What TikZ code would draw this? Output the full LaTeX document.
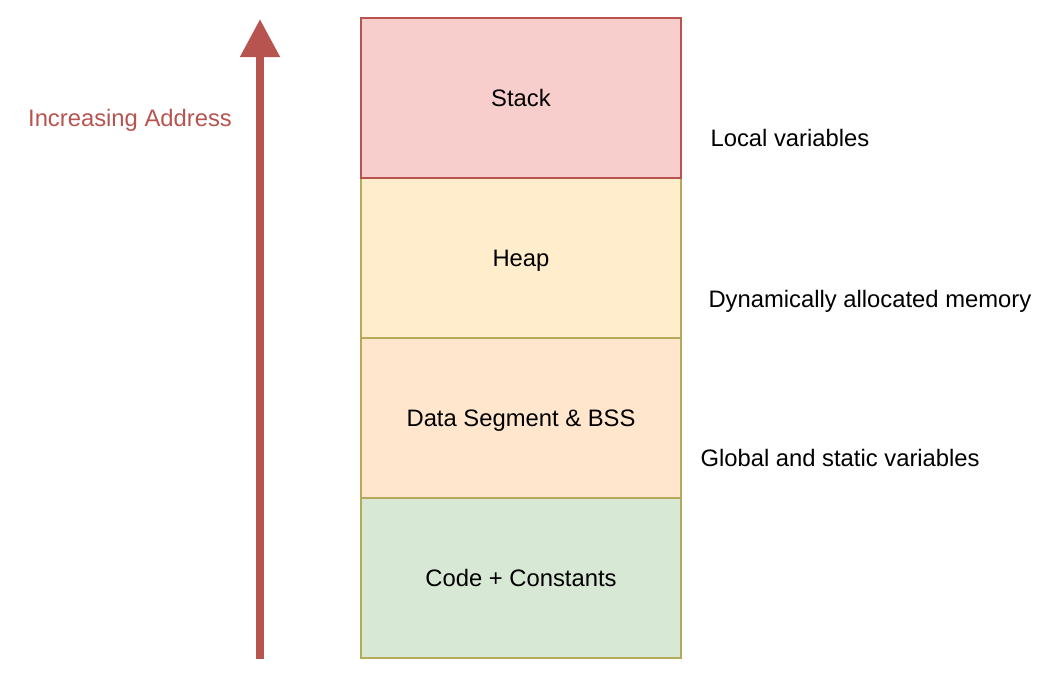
\documentclass[tikz,border=0pt]{standalone}
\usepackage{fontspec}
\setmainfont{Liberation Sans}
\usetikzlibrary{arrows.meta}
\definecolor{stackfill}{HTML}{F8CECC}
\definecolor{stackline}{HTML}{B85450}
\definecolor{heapfill}{HTML}{FFEDCC}
\definecolor{datafill}{HTML}{FFE6CC}
\definecolor{codefill}{HTML}{D7E8D4}
\definecolor{oliveline}{RGB}{181,169,92}

\begin{document}
\begin{tikzpicture}[x=1pt, y=-1pt,
            segment/.style={draw=oliveline, line width=2.8pt, minimum width=320pt, minimum height=160pt, inner sep=0pt, text depth=0pt, font=\fontsize{23.8}{28}\selectfont},
            note/.style={anchor=west, text depth=0pt, font=\fontsize{23.8}{28}\selectfont},]
        \useasboundingbox (0,0) rectangle (1042,678);

        % Segments
        \node[segment, fill=codefill]  (code)  at (521, 578) {Code + Constants};
        \node[segment, fill=datafill]  (data)  at (521, 418) {Data Segment \& BSS};
        \node[segment, fill=heapfill]  (heap)  at (521, 258) {Heap};
        \node[segment, fill=stackfill, draw=stackline] (stack) at (521, 98) {Stack};

        % Notes
        \node[note] (localvars)   at (707, 138) {Local variables};
        \node[note] (dynmem)      at (705, 299) {Dynamically allocated memory};
        \node[note] (globalvars)  at (697, 458) {Global and static variables};

        % Address arrow
        \coordinate (low)  at (260, 659);
        \coordinate (high) at (260, 19);
        \draw[stackline, line width=8pt, -{Triangle[width=38pt, length=38pt]}] (low) -- (high);
        \node[text=stackline, text depth=0pt, font=\fontsize{23.8}{28}\selectfont] (address) at (130, 118) {Increasing Address};
    \end{tikzpicture}
\end{document}
